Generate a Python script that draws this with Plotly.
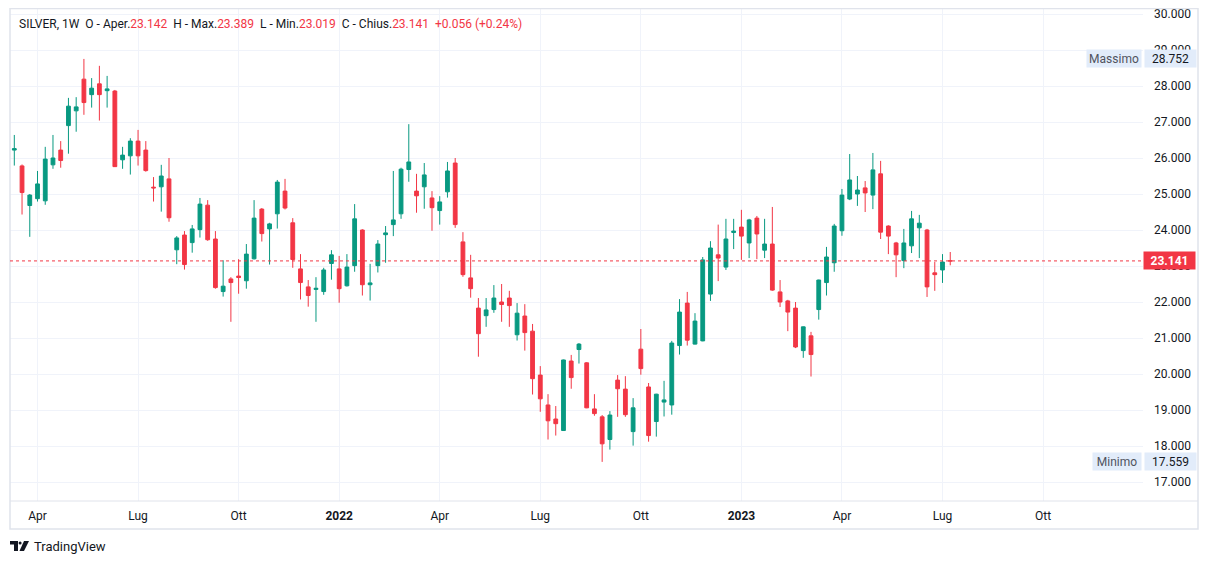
import pandas as pd
import plotly.graph_objects as go

# ---- data (weekly SILVER candles) ----
start_week = "2021-03-15"
opens = [26.22, 25.78, 24.68, 24.87, 24.81, 25.81, 26.22, 26.90, 27.31, 28.19,
         27.76, 28.06, 27.87, 27.86, 25.95, 26.06, 26.47, 26.22, 25.19, 25.20,
         25.42, 23.45, 23.86, 23.65, 24.01, 24.69, 23.75, 22.29, 22.64, 22.72,
         22.59, 23.20, 24.58, 24.03, 24.45, 25.08, 24.20, 22.92, 22.42, 22.35,
         22.29, 23.07, 22.92, 22.45, 23.01, 24.00, 22.48, 23.01, 23.87, 24.15,
         24.45, 25.68, 25.08, 25.20, 24.89, 24.54, 25.06, 25.86, 23.67, 22.67,
         21.83, 21.62, 21.79, 22.00, 22.11, 21.09, 21.61, 21.19, 19.97, 19.14,
         18.75, 18.43, 20.36, 20.68, 20.31, 19.03, 18.81, 18.18, 19.83, 19.58,
         18.40, 20.69, 19.64, 18.68, 19.22, 19.14, 20.79, 21.97, 20.83, 20.92,
         22.22, 23.31, 22.97, 23.93, 24.08, 23.64, 24.33, 23.44, 23.61, 22.28,
         22.03, 21.83, 20.65, 21.06, 21.79, 22.54, 23.09, 23.98, 24.86, 25.00,
         25.17, 24.97, 25.56, 24.11, 23.64, 23.15, 23.56, 24.06, 24.00, 22.81,
         22.89, 23.142]
highs = [26.64, 25.82, 25.00, 25.64, 26.31, 26.64, 26.47, 27.67, 27.69, 28.752,
         28.22, 28.56, 28.28, 27.89, 26.31, 26.55, 26.78, 26.47, 25.47, 25.81,
         26.00, 23.83, 23.97, 24.14, 24.89, 24.83, 23.97, 23.16, 22.69, 23.19,
         23.61, 24.83, 24.61, 24.20, 25.39, 25.42, 24.33, 23.33, 22.61, 22.69,
         22.95, 23.44, 23.28, 23.33, 24.72, 24.02, 23.06, 23.72, 24.11, 25.64,
         25.73, 26.94, 25.56, 25.86, 25.08, 24.94, 25.89, 26.00, 23.94, 23.31,
         22.11, 22.11, 22.47, 22.50, 22.31, 21.97, 21.94, 21.39, 20.22, 19.44,
         19.11, 20.40, 20.53, 20.86, 20.33, 19.44, 18.86, 18.97, 19.97, 19.94,
         19.33, 21.25, 19.75, 19.45, 19.81, 20.92, 22.08, 22.28, 21.69, 23.25,
         23.69, 24.15, 24.31, 24.31, 24.56, 24.31, 24.39, 24.31, 24.64, 22.61,
         22.06, 22.00, 21.32, 21.17, 22.62, 23.53, 24.17, 25.14, 26.11, 25.50,
         25.36, 26.14, 25.92, 24.13, 23.67, 24.03, 24.53, 24.42, 24.03, 23.11,
         23.33, 23.389]
lows = [25.79, 24.43, 23.81, 24.79, 24.70, 25.70, 25.73, 26.12, 26.73, 27.20,
        27.40, 27.04, 27.40, 25.75, 25.70, 25.54, 25.79, 25.62, 24.79, 24.51,
        24.23, 23.05, 22.90, 23.37, 23.79, 23.70, 22.37, 22.15, 21.45, 22.23,
        22.37, 23.18, 23.68, 23.04, 24.04, 24.57, 22.95, 22.07, 21.87, 21.45,
        22.20, 22.62, 21.98, 22.43, 22.84, 22.18, 22.04, 22.82, 23.09, 23.83,
        24.31, 25.34, 24.48, 24.59, 23.98, 24.15, 24.90, 24.06, 22.70, 22.12,
        20.48, 21.31, 21.70, 21.45, 21.31, 20.93, 20.65, 19.43, 18.95, 18.18,
        18.29, 18.42, 19.59, 20.29, 19.05, 18.84, 17.559, 17.90, 18.81, 18.81,
        18.01, 19.98, 18.12, 18.26, 18.82, 18.87, 20.54, 20.79, 20.82, 20.91,
        22.03, 22.58, 22.89, 23.47, 23.17, 23.22, 23.19, 23.22, 22.31, 21.86,
        21.19, 20.72, 20.45, 19.93, 21.51, 22.18, 22.84, 23.84, 24.83, 24.67,
        24.50, 24.58, 23.75, 23.33, 22.69, 22.94, 23.36, 23.22, 22.14, 22.31,
        22.53, 23.019]
closes = [26.26, 25.04, 24.97, 25.28, 25.97, 26.00, 25.93, 27.44, 27.42, 27.54,
          27.94, 27.76, 27.92, 25.76, 26.08, 26.47, 26.06, 25.65, 25.17, 25.50,
          24.34, 23.78, 23.04, 24.03, 24.72, 23.73, 22.40, 22.44, 22.54, 22.68,
          23.33, 24.33, 23.90, 24.17, 25.33, 24.61, 23.18, 22.54, 22.18, 22.38,
          22.89, 23.31, 22.37, 22.97, 24.31, 22.48, 22.53, 23.61, 23.92, 24.28,
          25.69, 25.89, 24.95, 25.53, 24.62, 24.78, 25.64, 24.15, 22.76, 22.37,
          21.12, 21.78, 22.11, 21.93, 21.90, 21.69, 21.15, 19.87, 19.31, 18.70,
          18.62, 20.39, 19.90, 20.83, 19.06, 18.90, 18.06, 18.86, 19.59, 18.87,
          19.06, 20.15, 18.29, 19.44, 19.28, 20.86, 21.72, 20.94, 21.47, 23.17,
          23.50, 23.22, 23.75, 23.97, 23.83, 24.28, 23.89, 23.61, 22.33, 22.00,
          21.72, 20.75, 21.31, 20.54, 22.61, 23.25, 24.11, 24.97, 25.39, 25.11,
          25.03, 25.67, 23.94, 23.83, 23.31, 23.64, 24.31, 24.19, 22.42, 22.76,
          23.11, 23.141]

tick_dates = ["2021-04-05", "2021-07-05", "2021-10-04", "2022-01-03", "2022-04-04",
              "2022-07-04", "2022-10-03", "2023-01-02", "2023-04-03", "2023-07-03",
              "2023-10-02"]
tick_labels = ["Apr", "Lug", "Ott", "<b>2022</b>", "Apr", "Lug", "Ott", "<b>2023</b>",
               "Apr", "Lug", "Ott"]
price_ticks = [17, 18, 19, 20, 21, 22, 23, 24, 25, 26, 27, 28, 29, 30]
max_price = 28.752
min_price = 17.559
last_price = 23.141

dates = pd.date_range(start_week, periods=len(opens), freq="7D")

GREEN = "#089981"
RED = "#f23645"
TXT = "#131722"
GRID = "#f0f3fa"
BORDER = "#e0e3eb"
FONT = "Roboto, Liberation Sans, sans-serif"

OFF = 8                                 # page body margin of the browser
W, H = 1209 - OFF, 564 - OFF            # figure size
L, R, T, B = 10, 1143, 8, 501           # plot area in window px
pw, ph = R - L, B - T


def px(x):
    return (x - L) / pw


def py(y):
    return (B - y) / ph


fig = go.Figure(go.Candlestick(
    x=dates, open=opens, high=highs, low=lows, close=closes,
    increasing=dict(line=dict(color=GREEN, width=1), fillcolor=GREEN),
    decreasing=dict(line=dict(color=RED, width=1), fillcolor=RED),
    whiskerwidth=0, showlegend=False,
))

step = pd.Timedelta(days=7)
x0 = dates[0] - 0.556 * step
x1 = dates[0] + 145.92 * step

fig.update_layout(
    width=W, height=H,
    margin=dict(l=L - OFF, r=W - (R - OFF), t=T - OFF, b=H - (B - OFF)),
    paper_bgcolor="white", plot_bgcolor="white",
    font=dict(family=FONT, color=TXT, size=12),
    xaxis=dict(
        type="date", range=[x0, x1], rangeslider=dict(visible=False),
        tickvals=tick_dates, ticktext=tick_labels,
        showgrid=True, gridcolor=GRID, gridwidth=1,
        showline=False, zeroline=False, ticks="",
        tickfont=dict(size=12, color=TXT, family=FONT),
        ticklabelstandoff=6,
    ),
    yaxis=dict(
        side="right", autorange=False, range=[30 - 487 / 36, 30 + 6 / 36],
        tickvals=price_ticks, tickformat=".3f",
        showgrid=True, gridcolor=GRID, gridwidth=1,
        zeroline=False, showline=False, ticks="",
        tickfont=dict(size=12, color=TXT, family=FONT),
        ticklabelstandoff=10, ticklabeloverflow="allow",
    ),
    hovermode=False,
)

shapes = []
# outer frame
shapes.append(dict(type="rect", xref="paper", yref="paper",
                   x0=px(10), x1=px(1198), y0=py(529), y1=py(8.5),
                   line=dict(color=BORDER, width=1.5), layer="above"))
# separator between plot and time axis
shapes.append(dict(type="line", xref="paper", yref="paper",
                   x0=px(10), x1=px(1198), y0=0, y1=0,
                   line=dict(color=BORDER, width=1), layer="above"))
# last price dotted line
shapes.append(dict(type="line", xref="paper", yref="y",
                   x0=0, x1=1, y0=last_price, y1=last_price,
                   line=dict(color=RED, width=1, dash="dot"), layer="above"))


# TradingView logo (simple drawing)
def P(x, y):
    return f"{px(x):.5f},{py(y):.5f}"


shapes.append(dict(type="path", xref="paper", yref="paper",
                   path=f"M {P(10,541)} L {P(18,541)} L {P(18,551)} L {P(14,551)} L {P(14,544.5)} L {P(10,544.5)} Z",
                   fillcolor=TXT, line=dict(width=0)))
shapes.append(dict(type="circle", xref="paper", yref="paper",
                   x0=px(18.6), x1=px(21.6), y0=py(544.6), y1=py(541.4),
                   fillcolor=TXT, line=dict(width=0)))
shapes.append(dict(type="path", xref="paper", yref="paper",
                   path=f"M {P(24,541)} L {P(29,541)} L {P(24,551)} L {P(19.5,551)} Z",
                   fillcolor=TXT, line=dict(width=0)))
fig.update_layout(shapes=shapes)

anns = []
red = RED
header = (f"SILVER, 1W&nbsp;&nbsp;O - Aper.<span style='color:{red}'>{opens[-1]:.3f}</span>"
          f"&nbsp;&nbsp;H - Max.<span style='color:{red}'>{highs[-1]:.3f}</span>"
          f"&nbsp;&nbsp;L - Min.<span style='color:{red}'>{lows[-1]:.3f}</span>"
          f"&nbsp;&nbsp;C - Chius.<span style='color:{red}'>{closes[-1]:.3f}</span>"
          f"&nbsp;&nbsp;<span style='color:{red}'>+0.056 (+0.24%)</span>")
anns.append(dict(xref="paper", yref="paper", x=px(17), y=py(24), xanchor="left", yanchor="middle",
                 text=header, showarrow=False, font=dict(size=12, color=TXT, family=FONT)))

# max / min labels
for val, name, bx in [(max_price, "Massimo", 1086), (min_price, "Minimo", 1092)]:
    anns.append(dict(xref="paper", yref="y", x=px(1142), y=val, xanchor="right", yanchor="middle",
                     text=name, showarrow=False, bgcolor="#e2ecfa", width=1142 - bx - 6, height=13,
                     borderpad=2, font=dict(size=12, color="#50535e", family=FONT)))
    anns.append(dict(xref="paper", yref="y", x=px(1143.5), y=val, xanchor="left", yanchor="middle",
                     text=f"{val:.3f}", showarrow=False, bgcolor="#e2ecfa", width=47, height=13,
                     borderpad=2, align="center", font=dict(size=12, color=TXT, family=FONT)))

# last price label
anns.append(dict(xref="paper", yref="y", x=px(1143), y=last_price, xanchor="left", yanchor="middle",
                 text=f"<b>{last_price:.3f}</b>", showarrow=False, bgcolor=RED, width=47, height=13,
                 borderpad=2, align="center", font=dict(size=12, color="white", family=FONT)))

# TradingView text
anns.append(dict(xref="paper", yref="paper", x=px(32), y=py(546), xanchor="left", yanchor="middle",
                 text="TradingView", showarrow=False, font=dict(size=13, color=TXT, family=FONT)))

fig.update_layout(annotations=anns)
fig.write_html("out.html")
